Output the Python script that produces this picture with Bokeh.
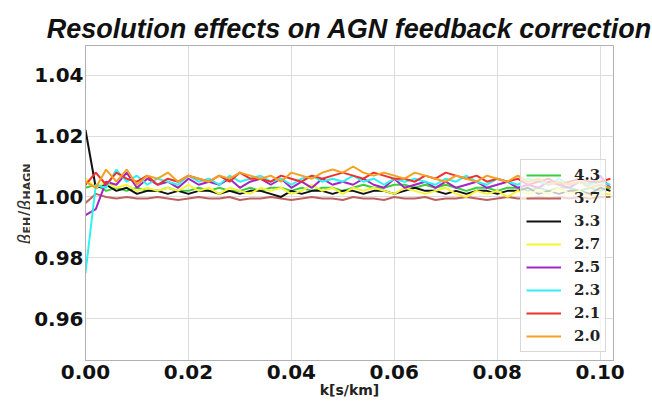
from bokeh.plotting import figure
from bokeh.layouts import row
from bokeh.models import Range1d, Legend, LegendItem, Label, FixedTicker, NumeralTickFormatter
from bokeh.embed import file_html
from bokeh.resources import INLINE
import math

title_text = "Resolution effects on AGN feedback correction"
x_label = "k[s/km]"
x_ticks = [0.0, 0.02, 0.04, 0.06, 0.08, 0.10]
y_ticks = [0.96, 0.98, 1.00, 1.02, 1.04]
dk = 0.002  # spacing of k samples

series_names = ["4.3", "3.7", "3.3", "2.7", "2.5", "2.3", "2.1", "2.0"]
colors = ["#3ccf3c", "#c0605c", "#111111", "#f5f530", "#a524c4", "#2ef2f2", "#f0302c", "#f5a020"]

s43 = [1.003, 1.004, 1.002, 1.003, 1.002, 1.003, 1.002, 1.002, 1.003, 1.002, 1.002, 1.003, 1.002,
       1.003, 1.002, 1.002, 1.003, 1.002, 1.003, 1.003, 1.002, 1.003, 1.002, 1.003, 1.003, 1.002,
       1.003, 1.004, 1.003, 1.003, 1.004, 1.004, 1.003, 1.004, 1.003, 1.004, 1.003, 1.002, 1.003,
       1.003, 1.002, 1.003, 1.003, 1.002, 1.003, 1.002, 1.003, 1.003, 1.002, 1.003, 1.002, 1.003]
s37 = [0.998, 1.001, 1.000, 0.9995, 1.000, 0.9995, 0.9995, 1.000, 0.9995, 0.999, 0.9995, 1.000, 0.9995,
       0.9995, 1.000, 0.999, 0.9995, 0.9995, 1.000, 0.9995, 0.999, 0.9995, 1.000, 0.9995, 0.9995, 0.999,
       1.000, 0.9995, 0.9995, 0.999, 1.000, 0.9995, 0.9995, 1.000, 0.999, 0.9995, 0.9995, 1.000, 0.9995,
       0.999, 0.9995, 1.000, 0.9995, 0.9995, 1.000, 0.9995, 1.000, 0.9995, 1.000, 0.9995, 1.000, 1.000]
s33 = [1.022, 1.003, 1.004, 1.002, 1.003, 1.001, 1.002, 1.002, 1.001, 1.002, 1.001, 1.002, 1.002,
       1.001, 1.002, 1.001, 1.002, 1.002, 1.001, 1.000, 1.002, 1.001, 1.002, 1.002, 1.001, 1.002,
       1.002, 1.001, 1.002, 1.002, 1.001, 1.002, 1.003, 1.002, 1.002, 1.001, 1.002, 1.001, 1.002,
       1.002, 1.001, 1.002, 1.002, 1.003, 1.001, 1.002, 1.001, 1.002, 1.002, 1.001, 1.003, 1.002]
s27 = [1.006, 1.003, 1.005, 1.003, 1.004, 1.002, 1.003, 1.002, 1.003, 1.002, 1.004, 1.002, 1.003,
       1.001, 1.003, 1.002, 1.001, 1.003, 1.002, 1.003, 1.001, 1.002, 1.004, 1.002, 1.003, 1.001,
       1.003, 1.002, 1.003, 1.002, 1.001, 1.003, 1.002, 1.001, 1.002, 1.003, 1.001, 1.000, 1.002,
       1.001, 1.002, 1.000, 1.002, 1.001, 1.002, 1.001, 1.003, 1.001, 1.002, 1.000, 1.001, 1.001]
s25 = [0.994, 0.996, 1.005, 1.004, 1.008, 1.003, 1.006, 1.004, 1.005, 1.003, 1.006, 1.004, 1.005,
       1.004, 1.006, 1.003, 1.005, 1.006, 1.004, 1.006, 1.003, 1.005, 1.003, 1.006, 1.004, 1.005,
       1.004, 1.006, 1.004, 1.003, 1.006, 1.003, 1.004, 1.005, 1.003, 1.005, 1.003, 1.004, 1.005,
       1.003, 1.004, 1.005, 1.003, 1.004, 1.003, 1.005, 1.004, 1.003, 1.005, 1.004, 1.007, 1.003]
s23 = [0.975, 1.004, 1.003, 1.009, 1.005, 1.007, 1.004, 1.006, 1.005, 1.004, 1.007, 1.005, 1.006,
       1.004, 1.007, 1.005, 1.006, 1.007, 1.005, 1.006, 1.004, 1.006, 1.007, 1.005, 1.006, 1.005,
       1.007, 1.005, 1.006, 1.004, 1.006, 1.005, 1.006, 1.005, 1.004, 1.006, 1.005, 1.007, 1.005,
       1.004, 1.006, 1.005, 1.004, 1.006, 1.005, 1.004, 1.006, 1.004, 1.005, 1.004, 1.005, 1.004]
s21 = [1.004, 1.008, 1.004, 1.008, 1.006, 1.005, 1.007, 1.004, 1.006, 1.005, 1.007, 1.006, 1.005,
       1.007, 1.005, 1.008, 1.006, 1.006, 1.005, 1.007, 1.006, 1.005, 1.007, 1.006, 1.007, 1.008,
       1.007, 1.006, 1.008, 1.007, 1.006, 1.006, 1.005, 1.007, 1.006, 1.008, 1.007, 1.006, 1.007,
       1.005, 1.006, 1.005, 1.006, 1.004, 1.005, 1.006, 1.004, 1.005, 1.006, 1.005, 1.005, 1.006]
s20 = [1.005, 1.003, 1.009, 1.005, 1.009, 1.004, 1.007, 1.006, 1.008, 1.005, 1.007, 1.006, 1.005,
       1.007, 1.006, 1.008, 1.007, 1.006, 1.007, 1.005, 1.008, 1.007, 1.006, 1.008, 1.009, 1.008,
       1.010, 1.008, 1.007, 1.008, 1.007, 1.006, 1.008, 1.007, 1.006, 1.005, 1.007, 1.006, 1.005,
       1.007, 1.006, 1.005, 1.007, 1.005, 1.006, 1.004, 1.005, 1.004, 1.005, 1.003, 1.004, 1.003]
series = [s43, s37, s33, s27, s25, s23, s21, s20]

W, H = 652, 406
LW = 30                      # width of the strip that holds the y-axis label
BL, BR, BT, BB = 55, 39, 45, 46
x0, x1 = 0.0, 0.1026
y0, y1 = 0.9462, 1.0498

p = figure(width=W - LW, height=H, output_backend="svg", toolbar_location=None,
           x_range=Range1d(x0, x1), y_range=Range1d(y0, y1),
           min_border_left=BL, min_border_right=BR, min_border_top=BT, min_border_bottom=BB)
p.title.text = title_text
p.title.align = "center"
p.title.standoff = 4
p.title.text_font = "Liberation Sans"
p.title.text_font_style = "bold italic"
p.title.text_font_size = "27px"
p.title.text_color = "#111111"

p.background_fill_color = "white"
p.border_fill_color = "white"
p.outline_line_color = "#b0b0b0"
p.outline_line_width = 1

for ax in (p.xaxis, p.yaxis):
    ax.major_label_text_font = "DejaVu Sans"
    ax.major_label_text_font_style = "bold"
    ax.major_label_text_font_size = "20px"
    ax.major_label_text_color = "#111111"
    ax.major_tick_line_color = None
    ax.minor_tick_line_color = None
    ax.major_tick_out = 0
    ax.major_tick_in = 0
    ax.minor_tick_out = 0
    ax.minor_tick_in = 0
    ax.axis_line_color = "#b0b0b0"
    ax.formatter = NumeralTickFormatter(format="0.00")
p.xaxis.ticker = FixedTicker(ticks=x_ticks)
p.yaxis.ticker = FixedTicker(ticks=y_ticks)
p.xaxis.major_label_standoff = 4
p.yaxis.major_label_standoff = 2
p.xaxis.axis_label = x_label
p.xaxis.axis_label_text_font = "DejaVu Sans"
p.xaxis.axis_label_text_font_style = "bold"
p.xaxis.axis_label_text_font_size = "14px"
p.xaxis.axis_label_text_color = "#222222"
p.xaxis.axis_label_standoff = 0

p.grid.grid_line_color = "#dcdcdc"
p.grid.grid_line_width = 1

items = []
for name, col, ys in zip(series_names, colors, series):
    ks = [i * dk for i in range(len(ys))]
    r = p.line(ks, ys, line_color=col, line_width=2)
    items.append(LegendItem(label=name, renderers=[r]))

legend = Legend(items=items, location=(435, 8),
                label_text_font="DejaVu Serif", label_text_font_style="bold",
                label_text_font_size="15px", label_text_color="#222222",
                glyph_width=35, glyph_height=20, label_height=20, spacing=3,
                label_standoff=13, padding=5, margin=0,
                background_fill_color="white", background_fill_alpha=0.75,
                border_line_color="#d8d8d8", border_line_alpha=1.0)
p.add_layout(legend, "center")

# strip on the left holding the composite y-axis label (beta_EH / beta_HAGN);
# its frame is aligned with the main frame, so offsets are measured from the frame bottom
q = figure(width=LW, height=H, output_backend="svg", toolbar_location=None,
           x_range=Range1d(0, LW), y_range=Range1d(0, H),
           x_axis_type=None, y_axis_type=None, min_border=0)
q.outline_line_color = None
q.background_fill_color = "white"
q.border_fill_color = "white"
q.grid.visible = False
frame_bottom = H - BB
pieces = [
    ("β", "17px", "italic", 24, 244),
    ("EH", "11px", "bold", 27, 233),
    ("/", "17px", "normal", 24, 216),
    ("β", "17px", "italic", 24, 210),
    ("HAGN", "11px", "bold", 27, 199),
]
for txt, fs, st, px, py in pieces:
    q.add_layout(Label(x=px, y=frame_bottom - py, x_units="screen", y_units="screen",
                       text=txt, angle=math.pi / 2,
                       text_font="DejaVu Sans", text_font_size=fs, text_font_style=st,
                       text_color="#333333", text_align="left", text_baseline="alphabetic"))

layout = row(q, p, spacing=0)
open("out.html", "w").write(file_html(layout, INLINE))
